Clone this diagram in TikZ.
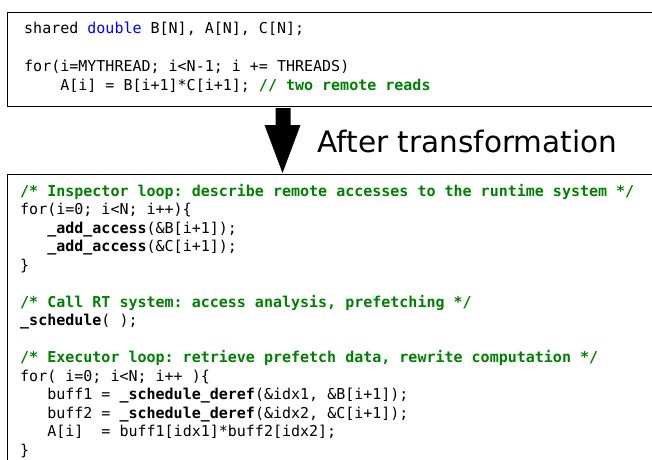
\documentclass[tikz,border=0pt]{standalone}
\usepackage{fontspec}
\newfontfamily\codefont{DejaVu Sans Mono}
\newfontfamily\labelfont{DejaVu Sans}
\definecolor{cmtgreen}{RGB}{0,128,0}
\definecolor{kwblue}{RGB}{0,0,255}
\newcommand{\cmt}[1]{\textcolor{cmtgreen}{\bfseries #1}}
\newcommand{\kw}[1]{\textcolor{kwblue}{#1}}
\tikzset{
  codebox/.style={draw=black, line width=1.7pt, inner sep=0pt, anchor=north west},
  codeline/.style={anchor=base west, inner sep=0pt,
    font=\codefont\fontsize{15}{18}\selectfont},
  caption/.style={anchor=base west, inner sep=0pt,
    font=\labelfont\fontsize{29.5}{34}\selectfont},
}
\begin{document}
\begin{tikzpicture}[x=1pt, y=-1pt]
\useasboundingbox (0,0) rectangle (652,459);
\clip (0,0) rectangle (652,459);
\frenchspacing

% source loop
\node[codebox, minimum width=700pt, minimum height=94pt] (topbox) at (6.5,11.5) {};
\node[codeline] (t1) at (24,33.5) {shared \kw{double} B[N], A[N], C[N];};
\node[codeline] (t2) at (24,71.5) {for(i=MYTHREAD; i<N-1; i += THREADS)};
\node[codeline] (t3) at (60.1,90) {A[i] = B[i+1]*C[i+1]; \cmt{// two remote reads}};

% transformation arrow
\coordinate (a1) at (275.5,108);
\coordinate (a2) at (290.5,108);
\coordinate (a3) at (290.5,125);
\coordinate (a4) at (300.5,125);
\coordinate (tip) at (282.5,173);
\coordinate (a5) at (264.5,125);
\coordinate (a6) at (275.5,125);
\fill[black] (a1) -- (a2) -- (a3) -- (a4) -- (tip) -- (a5) -- (a6) -- cycle;
\node[caption] (after) at (317.5,152) {After transformation};

% transformed code
\node[codebox, minimum width=700pt, minimum height=330pt] (botbox) at (6.5,173.5) {};
\node[codeline] (b1) at (20,196) {\cmt{/* Inspector loop: describe remote accesses to the runtime system */}};
\node[codeline] (b2) at (20,214.5) {for(i=0; i<N; i++)\{};
\node[codeline] (b3) at (47.1,233) {\textbf{\_add\_access}(\&B[i+1]);};
\node[codeline] (b4) at (47.1,251.5) {\textbf{\_add\_access}(\&C[i+1]);};
\node[codeline] (b5) at (20,270) {\}};
\node[codeline] (b6) at (20,307) {\cmt{/* Call RT system: access analysis, prefetching */}};
\node[codeline] (b7) at (20,325.5) {\textbf{\_schedule}( );};
\node[codeline] (b8) at (20,362.5) {\cmt{/* Executor loop: retrieve prefetch data, rewrite computation */}};
\node[codeline] (b9) at (20,381) {for( i=0; i<N; i++ )\{};
\node[codeline] (b10) at (47.1,399.5) {buff1 = \textbf{\_schedule\_deref}(\&idx1, \&B[i+1]);};
\node[codeline] (b11) at (47.1,418) {buff2 = \textbf{\_schedule\_deref}(\&idx2, \&C[i+1]);};
\node[codeline] (b12) at (47.1,436.5) {A[i]\ \ = buff1[idx1]*buff2[idx2];};
\node[codeline] (b13) at (20,455) {\}};
\end{tikzpicture}
\end{document}
